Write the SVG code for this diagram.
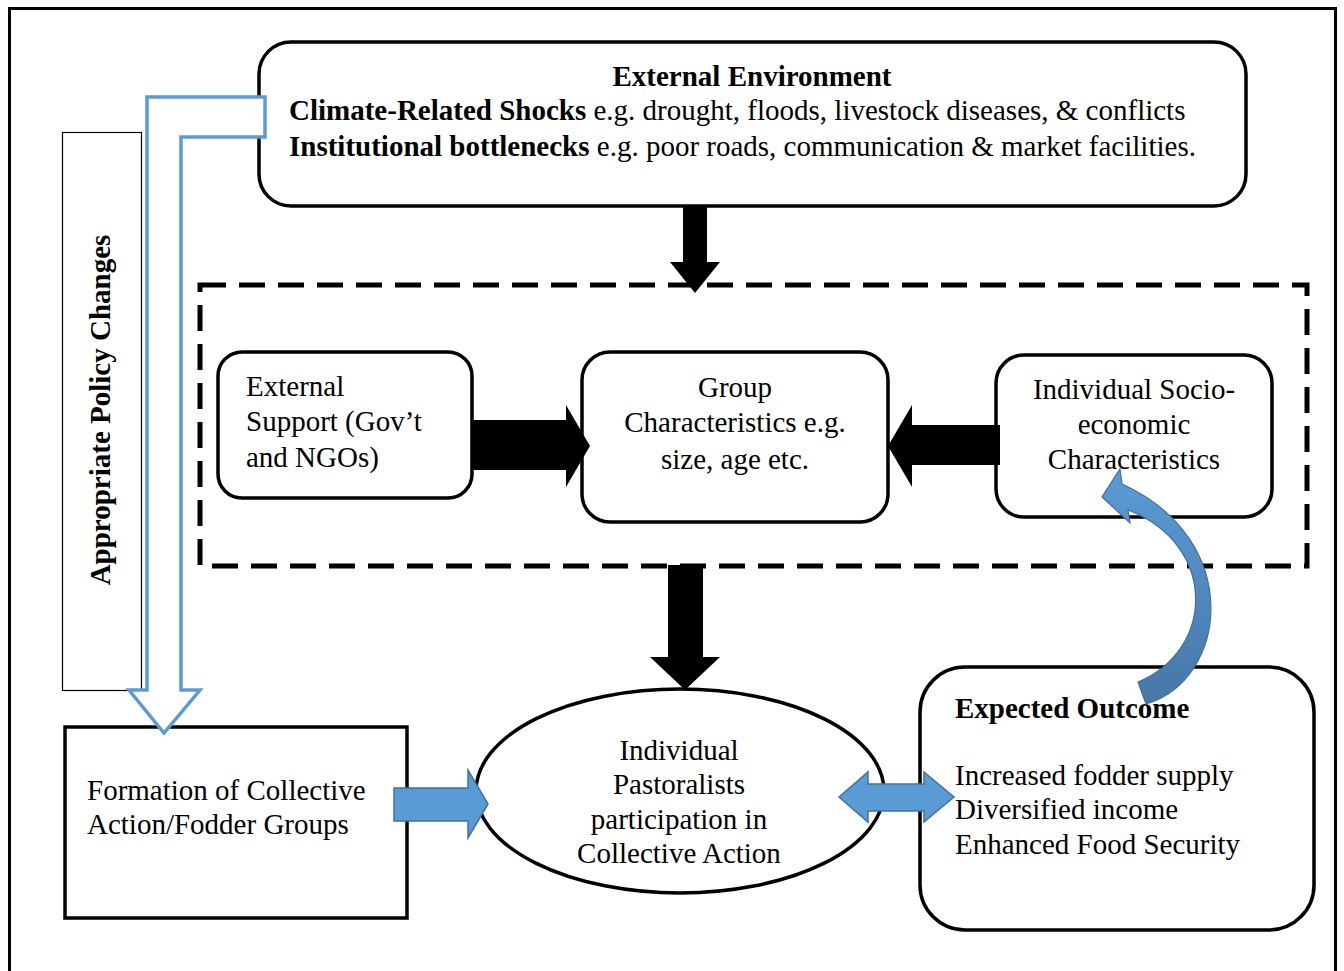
<svg xmlns="http://www.w3.org/2000/svg" width="1344" height="971" viewBox="0 0 1344 971">
<defs>
<style>
.t{font-family:"Liberation Serif","Times New Roman",serif;font-size:29px;fill:#000}
.b{font-weight:bold}
.c{text-anchor:middle}
.box{fill:#fff;stroke:#000;stroke-width:3.5}
.blk{fill:#000;stroke:none}
.blue{fill:#5b9bd5;stroke:#41719c;stroke-width:1.5}
</style>
<linearGradient id="cg" x1="0" y1="0" x2="0" y2="1">
<stop offset="0" stop-color="#5b9bd5"/>
<stop offset="1" stop-color="#4677a8"/>
</linearGradient>
</defs>
<rect x="0" y="0" width="1344" height="971" fill="#fff"/>
<rect x="9.5" y="8.5" width="1326" height="970" fill="none" stroke="#000" stroke-width="3"/>

<g id="external-environment">
<rect class="box" x="259" y="42" width="987" height="164" rx="32"/>
<text class="t b c" x="752" y="86">External Environment</text>
<text class="t" x="289" y="120"><tspan class="b">Climate-Related Shocks</tspan> e.g. drought, floods, livestock diseases, &amp; conflicts</text>
<text class="t" x="289" y="156"><tspan class="b">Institutional bottlenecks</tspan> e.g. poor roads, communication &amp; market facilities.</text>
</g>

<g id="policy-changes">
<rect x="62.5" y="132.5" width="79" height="558" fill="#fff" stroke="#000" stroke-width="1.2"/>
<text class="t b c" transform="translate(110,410) rotate(-90)">Appropriate Policy Changes</text>
</g>

<g id="dashed-group">
<rect x="200" y="285" width="1107" height="281" fill="none" stroke="#000" stroke-width="5" stroke-dasharray="26 13"/>
</g>

<g id="external-support">
<rect class="box" x="218" y="352" width="254" height="146" rx="24"/>
<text class="t" x="246" y="396">External</text>
<text class="t" x="246" y="431">Support (Gov’t</text>
<text class="t" x="246" y="467">and NGOs)</text>
</g>

<g id="group-characteristics">
<rect class="box" x="582" y="352" width="306" height="170" rx="28"/>
<text class="t c" x="735" y="397">Group</text>
<text class="t c" x="735" y="432">Characteristics e.g.</text>
<text class="t c" x="735" y="469">size, age etc.</text>
</g>

<g id="individual-characteristics">
<rect class="box" x="996" y="355" width="276" height="162" rx="28"/>
<text class="t c" x="1134" y="399">Individual Socio-</text>
<text class="t c" x="1134" y="434">economic</text>
<text class="t c" x="1134" y="469">Characteristics</text>
</g>

<g id="formation">
<rect class="box" x="65" y="727" width="342" height="191"/>
<text class="t" x="87" y="800">Formation of Collective</text>
<text class="t" x="87" y="834">Action/Fodder Groups</text>
</g>

<g id="participation">
<ellipse class="box" cx="680" cy="791" rx="204" ry="102"/>
<text class="t c" x="679" y="760">Individual</text>
<text class="t c" x="679" y="794">Pastoralists</text>
<text class="t c" x="679" y="829">participation in</text>
<text class="t c" x="679" y="863">Collective Action</text>
</g>

<g id="expected-outcome">
<rect class="box" x="920" y="667" width="394" height="263" rx="45"/>
<text class="t b" x="955" y="718">Expected Outcome</text>
<text class="t" x="955" y="785">Increased fodder supply</text>
<text class="t" x="955" y="819">Diversified income</text>
<text class="t" x="955" y="854">Enhanced Food Security</text>
</g>

<g id="connectors">
<path d="M147 97 L265 97 L265 137 L181 137 L181 690 L200 690 L164 733 L129 690 L147 690 Z" fill="#fff" stroke="#5b9bd5" stroke-width="3.5" stroke-linejoin="miter"/>
<path class="blk" d="M683 206 L707 206 L707 262 L720 262 L695 293 L670 262 L683 262 Z"/>
<path class="blk" d="M472 420 L566 420 L566 405 L590 446 L566 487 L566 470 L472 470 Z"/>
<path class="blk" d="M1000 425 L912 425 L912 405 L888 446 L912 487 L912 465 L1000 465 Z"/>
<path class="blk" d="M668 565 L703 565 L703 657 L720 657 L685 690 L650 657 L668 657 Z"/>
<path class="blue" d="M394 788 L468 788 L468 770 L488 804 L468 838 L468 821 L394 821 Z"/>
<path class="blue" d="M839 797 L868 772 L868 784 L924 784 L924 772 L954 797 L924 822 L924 811 L868 811 L868 822 Z"/>
<path d="M1146 704 C1228 680 1245 540 1122 484 L1120 469 L1102 497 L1130 523 L1128 510 C1218 545 1215 650 1138 682 Z" fill="url(#cg)" stroke="#41719c" stroke-width="1.2"/>
</g>
</svg>
